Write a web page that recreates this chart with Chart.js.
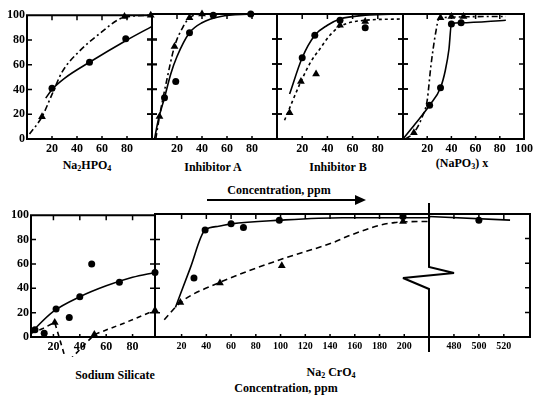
<!DOCTYPE html>
<html>
<head>
<meta charset="utf-8">
<script src="https://cdn.jsdelivr.net/npm/chart.js@4.4.0/dist/chart.umd.min.js"></script>
<style>
  html, body { margin: 0; padding: 0; background: #fff; }
  #fig { position: relative; width: 537px; height: 398px; overflow: hidden;
         font-family: "Liberation Serif", "DejaVu Serif", serif; font-weight: bold; color: #000; }
  #fig canvas { position: absolute; }
  .lbl { position: absolute; white-space: nowrap; transform: translate(-50%, -50%); font-size: 12px; }
  .lbl sub { font-size: 8px; vertical-align: -2px; }
  #deco { position: absolute; left: 0; top: 0; }
</style>
</head>
<body>
<div id="fig">
  <div class="lbl" style="left:87px;top:165px">Na<sub>2</sub>HPO<sub>4</sub></div>
  <div class="lbl" style="left:213px;top:167px">Inhibitor A</div>
  <div class="lbl" style="left:338px;top:167px">Inhibitor B</div>
  <div class="lbl" style="left:462px;top:163px">(NaPO<sub>3</sub>) x</div>
  <div class="lbl" style="left:279px;top:190px">Concentration, ppm</div>
  <div class="lbl" style="left:115px;top:375px">Sodium Silicate</div>
  <div class="lbl" style="left:331px;top:372px">Na<sub>2</sub> CrO<sub>4</sub></div>
  <div class="lbl" style="left:286px;top:388px">Concentration, ppm</div>
  <svg id="deco" width="537" height="398">
    <line x1="207" y1="200" x2="357" y2="200" stroke="#000" stroke-width="2"/>
    <polygon points="355,195 366,200 355,205" fill="#000"/>
    <polyline points="429,203 429,267 454,273 403,278 429,289 429,352" fill="none" stroke="#000" stroke-width="2"/>
  </svg>
</div>
<script>
const yTicks = [0, 20, 40, 60, 80, 100];
const frameTicks = [20, 40, 60, 80];
const topXTicks = [20, 40, 60, 80];
const napoXTicks = [20, 40, 60, 80, 100];
const silicateXTicks = [20, 40, 60, 80];
const chromateXTicks = [20, 40, 60, 80, 100, 120, 140, 160, 180, 200];
const chromateFarTicks = [480, 500, 520];

// Na2HPO4
const hpoCircles = [[20, 41], [50, 62], [79, 81]];
const hpoTriangles = [[12, 18], [78, 99], [99, 100]];
const hpoSolid = [[15, 33], [20, 40], [30, 49], [50, 62], [80, 80], [100, 91]];
const hpoDash = [[2, 4], [12, 18], [20, 36], [28, 54], [42, 71], [58, 85], [77, 98], [100, 100]];

// Inhibitor A
const aCircles = [[10, 33], [19, 46], [30, 85], [49, 99], [79, 100]];
const aTriangles = [[6, 18], [18, 74], [30, 97], [40, 100]];
const aSolid = [[2, 0], [5, 15], [10, 33], [15, 52], [20, 66], [30, 85], [40, 93], [55, 98], [80, 100]];
const aDash = [[3, 0], [6, 18], [12, 48], [18, 74], [25, 90], [30, 97], [40, 100], [60, 100]];

// Inhibitor B
const bCircles = [[20, 65], [30, 83], [50, 95], [70, 89]];
const bTriangles = [[10, 21], [19, 46], [31, 52], [50, 91], [70, 94]];
const bSolid = [[10, 36], [20, 65], [30, 83], [40, 91], [50, 96], [70, 99], [100, 100]];
const bDash = [[6, 15], [19, 46], [27, 62], [34, 72], [42, 83], [50, 90], [70, 95], [100, 96]];

// (NaPO3)x
const napoCircles = [[22, 27], [31, 41], [40, 92], [48, 93]];
const napoTriangles = [[9, 5], [31, 97], [40, 98], [50, 98]];
const napoSolid = [[0, 0], [10, 12], [22, 27], [31, 41], [35, 55], [38, 72], [40, 92], [48, 93], [85, 95]];
const napoDash = [[2, 0], [9, 5], [16, 18], [20, 31], [23, 58], [27, 85], [30, 97], [85, 98]];

// Sodium silicate
const silCircles = [[6, 6], [13, 3], [22, 23], [32, 16], [40, 33], [49, 60], [70, 45], [97, 53]];
const silTriangles = [[21, 12], [51, 2], [97, 22]];
const silSolid = [[3, 3], [8, 9], [20, 21], [40, 33], [60, 42], [80, 49], [97, 53]];
const silDash = [[3, 3], [12, 7], [21, 12], [30, -21], [34, -17], [51, 2], [75, 12], [97, 22]];

// Na2CrO4
const crCircles = [[30, 48], [39, 87], [60, 92], [70, 89], [99, 95], [199, 98]];
const crTriangles = [[19, 28], [51, 44], [101, 58], [199, 94]];
const crSolid = [[15, 24], [27, 56], [39, 87], [50, 90], [60, 92], [100, 95], [150, 97], [221, 97]];
const crDash = [[6, 14], [19, 28], [50, 44], [100, 63], [143, 77], [157, 83], [192, 93], [221, 94]];
const crFarCircles = [[500, 95]];
const crFarSolid = [[460, 98], [525, 95]];

const serif = '"Liberation Serif", "DejaVu Serif", serif';
const fig = document.getElementById('fig');

function pts(a) { return a.map(p => ({ x: p[0], y: p[1] })); }

// draws the box round each panel and the little tick marks on it
const framePlugin = {
  id: 'frame',
  afterDatasetsDraw(chart, args, o) {
    const { ctx, chartArea: a } = chart;
    const x = chart.scales.x, y = chart.scales.y;
    ctx.save();
    ctx.strokeStyle = '#000';
    ctx.lineWidth = 2;
    ctx.lineCap = 'square';
    ctx.beginPath();
    if (o.top) { ctx.moveTo(a.left, a.top); ctx.lineTo(a.right, a.top); }
    if (o.bottom) { ctx.moveTo(a.left, a.bottom); ctx.lineTo(a.right, a.bottom); }
    if (o.left) { ctx.moveTo(a.left, a.top); ctx.lineTo(a.left, a.bottom); }
    if (o.right) { ctx.moveTo(a.right, a.top); ctx.lineTo(a.right, a.bottom); }
    ctx.stroke();
    ctx.lineWidth = 1.5;
    ctx.lineCap = 'butt';
    ctx.beginPath();
    for (const v of frameTicks) {
      const py = y.getPixelForValue(v);
      if (o.left) { ctx.moveTo(a.left - (o.left === 'cross' ? 5 : 0), py); ctx.lineTo(a.left + 5, py); }
      if (o.right) { ctx.moveTo(a.right + (o.right === 'cross' ? 5 : 0), py); ctx.lineTo(a.right - 5, py); }
    }
    for (const t of x.ticks) {
      const px = x.getPixelForValue(t.value);
      if (px > a.right - 2) continue;
      if (o.top) { ctx.moveTo(px, a.top); ctx.lineTo(px, a.top + 5); }
      if (o.bottom) { ctx.moveTo(px, a.bottom); ctx.lineTo(px, a.bottom - 3); }
    }
    ctx.stroke();
    ctx.restore();
  }
};

function datasets(s) {
  const d = [];
  if (s.solid) d.push({ data: pts(s.solid), showLine: true, borderColor: '#000', borderWidth: 1.6,
    pointRadius: 0, cubicInterpolationMode: 'monotone', clip: false });
  if (s.dash) d.push({ data: pts(s.dash), showLine: true, borderColor: '#000', borderWidth: 1.6,
    borderDash: s.dashStyle || [6, 3, 2, 3], pointRadius: 0, tension: 0,
    cubicInterpolationMode: s.straight ? 'default' : 'monotone', clip: false });
  if (s.circles) d.push({ data: pts(s.circles), showLine: false, pointStyle: 'circle', pointRadius: 3.5,
    backgroundColor: '#000', borderColor: '#000', borderWidth: 0, clip: false });
  if (s.triangles) d.push({ data: pts(s.triangles), showLine: false, pointStyle: 'triangle', pointRadius: 4.5,
    backgroundColor: '#000', borderColor: '#000', borderWidth: 0, clip: false });
  return d;
}

// box = plot area on the page: [left, top, width, height]
function panel(box, xRange, xTicks, s, frame, o = {}) {
  const padL = o.yLabels ? 26 : 8, padR = 8, padT = 8, padB = 20;
  const fs = o.fontSize || 12;
  const cv = document.createElement('canvas');
  cv.width = box[2] + padL + padR;
  cv.height = box[3] + padT + padB;
  cv.style.left = (box[0] - padL) + 'px';
  cv.style.top = (box[1] - padT) + 'px';
  fig.appendChild(cv);
  new Chart(cv, {
    type: 'scatter',
    data: { datasets: datasets(s) },
    options: {
      responsive: false,
      animation: false,
      events: [],
      layout: { padding: { left: 0, right: padR, top: padT, bottom: 0 } },
      plugins: { legend: { display: false }, tooltip: { enabled: false }, frame: frame },
      scales: {
        x: {
          type: 'linear', min: xRange[0], max: xRange[1],
          grid: { display: false, drawTicks: false }, border: { display: false },
          afterBuildTicks: sc => { sc.ticks = xTicks.map(v => ({ value: v })); },
          afterFit: sc => { sc.height = padB; },
          ticks: { color: '#000', padding: 3, maxRotation: 0, autoSkip: false,
                   font: { family: serif, size: fs, weight: 'bold' } }
        },
        y: {
          type: 'linear', min: 0, max: 100,
          grid: { display: false, drawTicks: false }, border: { display: false },
          afterBuildTicks: sc => { sc.ticks = yTicks.map(v => ({ value: v })); },
          afterFit: sc => { sc.width = padL; },
          ticks: { display: !!o.yLabels, color: '#000', padding: 2,
                   font: { family: serif, size: 12, weight: 'bold' } }
        }
      }
    },
    plugins: [framePlugin]
  });
}

const all4 = { top: true, bottom: true, left: 'cross', right: 'cross' };

panel([27, 14, 125, 125], [0, 100], topXTicks,
  { solid: hpoSolid, dash: hpoDash, circles: hpoCircles, triangles: hpoTriangles },
  { top: true, bottom: true, left: 'in', right: 'cross' }, { yLabels: true });
panel([152, 14, 125, 125], [0, 100], topXTicks,
  { solid: aSolid, dash: aDash, circles: aCircles, triangles: aTriangles }, all4);
panel([277, 14, 126, 125], [0, 100], topXTicks,
  { solid: bSolid, dash: bDash, dashStyle: [3, 3], circles: bCircles, triangles: bTriangles }, all4);
panel([403, 14, 125, 125], [0, 100], napoXTicks,
  { solid: napoSolid, dash: napoDash, circles: napoCircles, triangles: napoTriangles },
  { top: true, bottom: true, left: 'cross', right: 'in' });

panel([31, 214, 124, 123], [3, 97], silicateXTicks,
  { solid: silSolid, dash: silDash, dashStyle: [5, 4], straight: true, circles: silCircles, triangles: silTriangles },
  { top: true, bottom: true, left: 'in', right: 'cross' }, { yLabels: true });
panel([155, 214, 274, 123], [-1.5, 220], chromateXTicks,
  { solid: crSolid, dash: crDash, dashStyle: [6, 4], circles: crCircles, triangles: crTriangles },
  { top: true, bottom: true }, { fontSize: 10 });
panel([429, 214, 101, 123], [460, 541], chromateFarTicks,
  { solid: crFarSolid, circles: crFarCircles },
  { top: true, bottom: true, right: 'in' }, { fontSize: 10 });
</script>
</body>
</html>
